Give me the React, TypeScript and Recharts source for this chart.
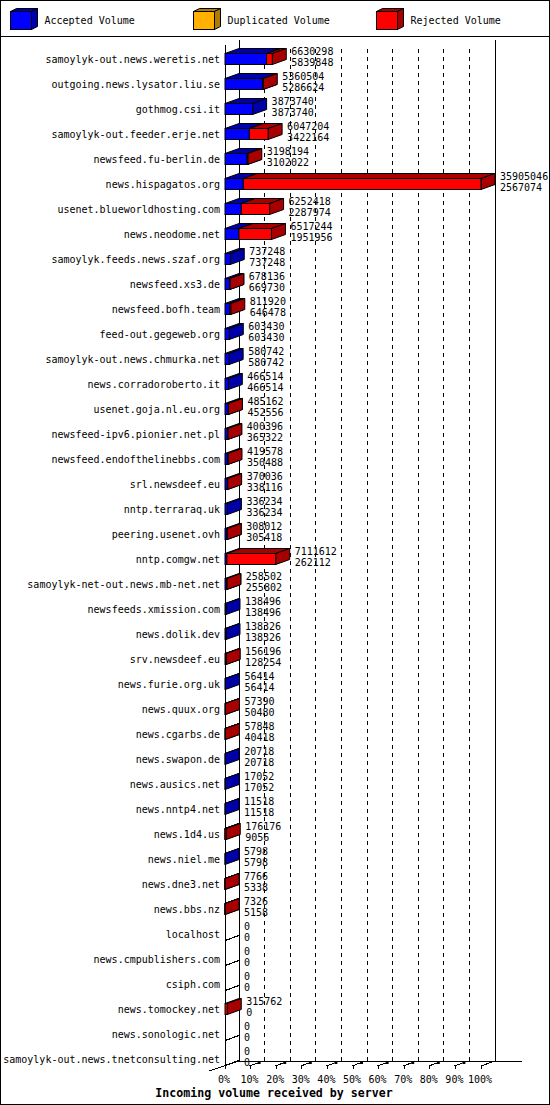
import React from 'react';
import { BarChart, Bar, XAxis, YAxis, CartesianGrid, Legend, LabelList, Label } from 'recharts';

const SERVERS = [
  'samoylyk-out.news.weretis.net',
  'outgoing.news.lysator.liu.se',
  'gothmog.csi.it',
  'samoylyk-out.feeder.erje.net',
  'newsfeed.fu-berlin.de',
  'news.hispagatos.org',
  'usenet.blueworldhosting.com',
  'news.neodome.net',
  'samoylyk.feeds.news.szaf.org',
  'newsfeed.xs3.de',
  'newsfeed.bofh.team',
  'feed-out.gegeweb.org',
  'samoylyk-out.news.chmurka.net',
  'news.corradoroberto.it',
  'usenet.goja.nl.eu.org',
  'newsfeed-ipv6.pionier.net.pl',
  'newsfeed.endofthelinebbs.com',
  'srl.newsdeef.eu',
  'nntp.terraraq.uk',
  'peering.usenet.ovh',
  'nntp.comgw.net',
  'samoylyk-net-out.news.mb-net.net',
  'newsfeeds.xmission.com',
  'news.dolik.dev',
  'srv.newsdeef.eu',
  'news.furie.org.uk',
  'news.quux.org',
  'news.cgarbs.de',
  'news.swapon.de',
  'news.ausics.net',
  'news.nntp4.net',
  'news.1d4.us',
  'news.niel.me',
  'news.dne3.net',
  'news.bbs.nz',
  'localhost',
  'news.cmpublishers.com',
  'csiph.com',
  'news.tomockey.net',
  'news.sonologic.net',
  'samoylyk-out.news.tnetconsulting.net',
];

const TOTAL_VOLUME = [
  6630298, 5360504, 3873740, 6047204, 3198194, 35905046, 6252418, 6517244,
  737248, 678136, 811920, 603430, 580742, 466514, 485162, 400396, 419578,
  370036, 336234, 308012, 7111612, 258502, 138496, 138326, 156196, 56414,
  57390, 57848, 20718, 17052, 11518, 176176, 5798, 7766, 7326, 0, 0, 0,
  315762, 0, 0,
];

const ACCEPTED_VOLUME = [
  5839848, 5286624, 3873740, 3422164, 3102022, 2567074, 2287974, 1951956,
  737248, 669730, 646478, 603430, 580742, 466514, 452556, 365322, 350488,
  338116, 336234, 305418, 262112, 255802, 138496, 138326, 128254, 56414,
  50480, 40418, 20718, 17052, 11518, 9056, 5798, 5338, 5158, 0, 0, 0,
  0, 0, 0,
];

const DUPLICATED_VOLUME = [
  0, 0, 0, 0, 0, 0, 0, 0, 0, 0, 0, 0, 0, 0, 0, 0, 0, 0, 0, 0, 0,
  0, 0, 0, 0, 0, 0, 0, 0, 0, 0, 0, 0, 0, 0, 0, 0, 0, 0, 0, 0,
];

const PERCENT_TICKS = [0, 10, 20, 30, 40, 50, 60, 70, 80, 90, 100];

const MAX_VOLUME = Math.max(...TOTAL_VOLUME);

const data = SERVERS.map((name, i) => ({
  name,
  accepted: ACCEPTED_VOLUME[i],
  duplicated: DUPLICATED_VOLUME[i],
  rejected: TOTAL_VOLUME[i] - ACCEPTED_VOLUME[i] - DUPLICATED_VOLUME[i],
  total: TOTAL_VOLUME[i],
}));

const FONT = '"DejaVu Sans Mono", monospace';
const DX = 14;
const DY = 5;
const BAR_SIZE = 11;
const BACK_TOP = 40;
const FRONT_TOP = 45;
const BACK_FLOOR = 1061;
const FRONT_FLOOR = 1066;

const DARK: Record<string, string> = {
  accepted: '#0000a8',
  duplicated: '#b07c00',
  rejected: '#a80000',
};
const FRONT: Record<string, string> = {
  accepted: '#0000ff',
  duplicated: '#ffb000',
  rejected: '#ff0000',
};

const makeCube = (key: string) => (props: any) => {
  const { x, y, width, height, payload } = props;
  if (!payload || !(payload[key] > 0)) {
    return <g />;
  }
  const w = Math.max(width || 0, 0);
  const dark = DARK[key];
  const front = FRONT[key];
  return (
    <g>
      <polygon
        points={`${x},${y} ${x + w},${y} ${x + w + DX},${y - DY} ${x + DX},${y - DY}`}
        fill={dark}
        stroke="#000"
        strokeWidth={1}
        strokeLinejoin="miter"
      />
      <polygon
        points={`${x + w},${y} ${x + w + DX},${y - DY} ${x + w + DX},${y + height - DY} ${x + w},${y + height}`}
        fill={dark}
        stroke="#000"
        strokeWidth={1}
      />
      <rect x={x} y={y} width={w} height={height} fill={front} stroke="#000" strokeWidth={1} />
    </g>
  );
};

const VolumeLabels = (props: any) => {
  const vb = props.viewBox || {};
  const x = props.x ?? vb.x;
  const y = props.y ?? vb.y;
  const width = props.width ?? vb.width ?? 0;
  const height = props.height ?? vb.height ?? 0;
  const row = data[props.index];
  if (!row) return null;
  const end = x + Math.max(width, 0);
  const cy = y + height / 2;
  return (
    <g>
      <text x={end + DX + 5} y={cy - 4} fontFamily={FONT} fontSize={10} fill="#000">
        {row.total}
      </text>
      <text x={end + DX + 5} y={cy + 6.5} fontFamily={FONT} fontSize={10} fill="#000">
        {row.accepted}
      </text>
    </g>
  );
};

const ServerTick = (props: any) => {
  const { y, payload } = props;
  return (
    <text x={220} y={y + 3.5} textAnchor="end" fontFamily={FONT} fontSize={10} fill="#000">
      {payload.value}
    </text>
  );
};

const PercentTick = (props: any) => {
  const { x, payload } = props;
  const pct = Math.round((payload.value / MAX_VOLUME) * 100);
  return (
    <g>
      <line x1={x} y1={FRONT_FLOOR} x2={x} y2={FRONT_FLOOR + 3} stroke="#000" shapeRendering="crispEdges" />
      {pct > 0 && pct < 100 && (
        <g>
          <line
            x1={x - 1}
            y1={FRONT_FLOOR}
            x2={x + 7}
            y2={FRONT_FLOOR - 3}
            stroke="#000"
            shapeRendering="crispEdges"
          />
          <rect x={x + 7} y={BACK_FLOOR} width={3} height={3} fill="#000" />
        </g>
      )}
      <text x={x - 1} y={1083} textAnchor="middle" fontFamily={FONT} fontSize={10} fill="#000">
        {`${pct}%`}
      </text>
    </g>
  );
};

const GridLine = (props: any) => {
  const { x1, y1, y2, index } = props;
  const pts: number[] = props.verticalPoints || [];
  const x0 = typeof props.x === 'number' ? props.x : Math.min(...pts);
  const x100 = typeof props.width === 'number' ? props.x + props.width : Math.max(...pts);
  const isEdge = Math.abs(x1 - x0) < 0.5 || Math.abs(x1 - x100) < 0.5;
  const band = (y2 - y1) / data.length;
  return (
    <g key={`grid-${index}`}>
      {!isEdge && (
        <line
          x1={x1 + DX}
          y1={49}
          x2={x1 + DX}
          y2={BACK_FLOOR}
          stroke="#000"
          strokeDasharray="4 4"
          shapeRendering="crispEdges"
        />
      )}
      {index === 0 && (
        <g stroke="#000" strokeWidth={1} shapeRendering="crispEdges">
          <line x1={x0 + DX} y1={BACK_TOP} x2={x0 + DX} y2={BACK_FLOOR} />
          <line x1={x100 + DX} y1={BACK_TOP} x2={x100 + DX} y2={BACK_FLOOR} />
          <line x1={x0} y1={FRONT_TOP} x2={x0} y2={FRONT_FLOOR} />
          <line x1={x0 + DX} y1={BACK_FLOOR} x2={x100 + DX + 27} y2={BACK_FLOOR} />
          <line x1={x0 - 16} y1={FRONT_FLOOR + 5} x2={x0 + DX} y2={BACK_FLOOR} />
          <line x1={x100} y1={FRONT_FLOOR} x2={x100 + DX} y2={BACK_FLOOR} />
          {data.map((row, i) => {
            if (row.total !== 0) return null;
            const bottom = Math.round(y1 + band * (i + 0.5) + BAR_SIZE / 2) + 0.5;
            return (
              <line
                key={`empty-${i}`}
                x1={x0}
                y1={bottom}
                x2={x0 + DX}
                y2={bottom - DY}
                stroke="#000"
                strokeWidth={1.2}
              />
            );
          })}
        </g>
      )}
    </g>
  );
};

const LegendContent = (props: any) => {
  const payload = props.payload || [];
  return (
    <div style={{ width: 550, height: 37 }}>
      <svg width={550} height={37} style={{ display: 'block' }}>
        {payload.map((entry: any, i: number) => {
          const key = entry.dataKey as string;
          const bx = 10.5 + i * 183;
          const by = 11.5;
          const w = 21;
          const h = 18;
          return (
            <g key={key}>
              <polygon
                points={`${bx},${by} ${bx + w},${by} ${bx + w + 6},${by - 3} ${bx + 6},${by - 3}`}
                fill={DARK[key]}
                stroke="#000"
              />
              <polygon
                points={`${bx + w},${by} ${bx + w + 6},${by - 3} ${bx + w + 6},${by + h - 3} ${bx + w},${by + h}`}
                fill={DARK[key]}
                stroke="#000"
              />
              <rect x={bx} y={by} width={w} height={h} fill={entry.color} stroke="#000" />
              <text x={bx + 34} y={24} fontFamily={FONT} fontSize={10} fill="#000">
                {entry.value}
              </text>
            </g>
          );
        })}
        <line x1={0} y1={36.5} x2={550} y2={36.5} stroke="#000" />
      </svg>
    </div>
  );
};

const TitleLabel = () => (
  <text x={274} y={1097} textAnchor="middle" fontFamily={FONT} fontSize={11.6} fontWeight="bold" fill="#000">
    Incoming volume received by server
  </text>
);

export default function App() {
  return (
    <div style={{ position: 'absolute', left: 0, top: 0, width: 550, height: 1105, background: '#fff' }}>
      <BarChart
        layout="vertical"
        width={550}
        height={1105}
        data={data}
        barSize={BAR_SIZE}
        margin={{ top: 9.5, right: 69, bottom: 0, left: 0 }}
      >
        <CartesianGrid horizontal={false} vertical={GridLine as any} stroke="#000" />
        <XAxis
          type="number"
          domain={[0, MAX_VOLUME]}
          ticks={PERCENT_TICKS.map((p) => (p / 100) * MAX_VOLUME)}
          interval={0}
          height={33.5}
          axisLine={false}
          tickLine={false}
          tick={PercentTick as any}
        >
          <Label content={TitleLabel as any} />
        </XAxis>
        <YAxis
          type="category"
          dataKey="name"
          width={225}
          interval={0}
          axisLine={false}
          tickLine={false}
          tick={ServerTick as any}
        />
        <Legend
          verticalAlign="top"
          align="left"
          wrapperStyle={{ top: 0, left: 0, width: 550 }}
          content={LegendContent as any}
        />
        <Bar
          dataKey="accepted"
          name="Accepted Volume"
          stackId="v"
          fill="#0000ff"
          isAnimationActive={false}
          shape={makeCube('accepted') as any}
        />
        <Bar
          dataKey="duplicated"
          name="Duplicated Volume"
          stackId="v"
          fill="#ffb000"
          isAnimationActive={false}
          shape={makeCube('duplicated') as any}
        />
        <Bar
          dataKey="rejected"
          name="Rejected Volume"
          stackId="v"
          fill="#ff0000"
          isAnimationActive={false}
          shape={makeCube('rejected') as any}
        >
          <LabelList dataKey="total" content={VolumeLabels as any} />
        </Bar>
      </BarChart>
      <div
        style={{
          position: 'absolute',
          left: 0,
          top: 0,
          width: 550,
          height: 1105,
          border: '1px solid #000',
          boxSizing: 'border-box',
          pointerEvents: 'none',
        }}
      />
    </div>
  );
}
